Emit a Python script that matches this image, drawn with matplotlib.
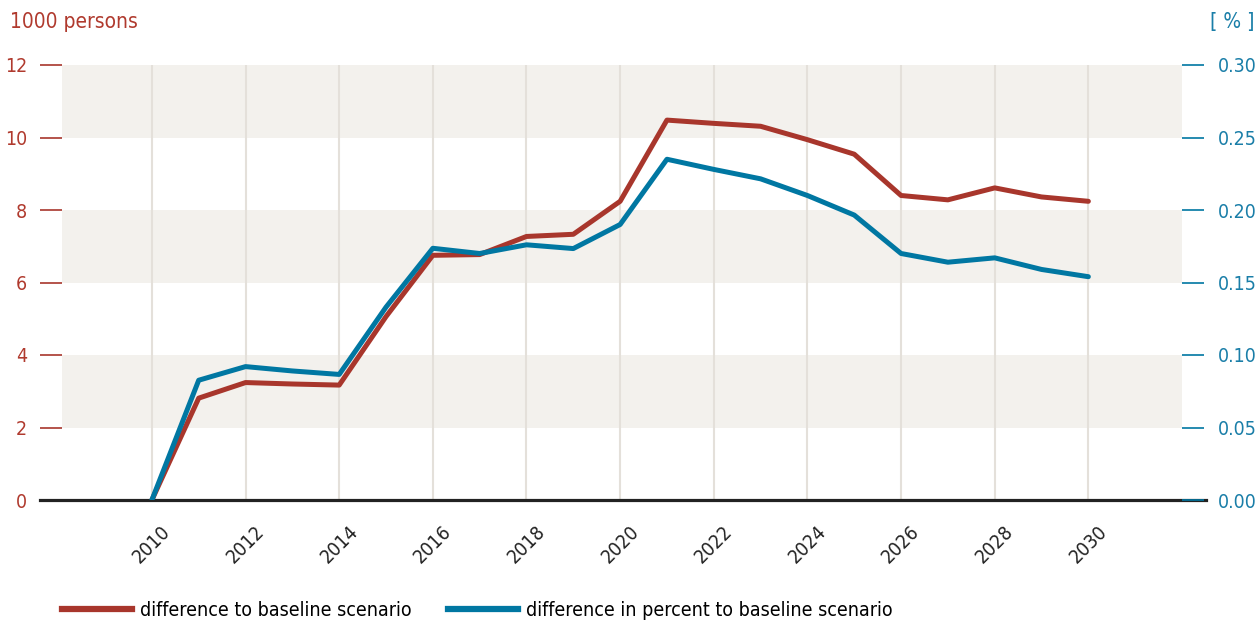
import matplotlib
matplotlib.use("Agg")
import matplotlib.pyplot as plt
from matplotlib import font_manager

years = list(range(2010, 2031))
# difference to baseline scenario, 1000 persons
diff_persons = [0.0, 2.81, 3.24, 3.20, 3.17, 5.06, 6.75, 6.77, 7.27, 7.33, 8.24,
                10.48, 10.39, 10.31, 9.94, 9.54, 8.40, 8.28, 8.61, 8.36, 8.24]
# difference in percent to baseline scenario
diff_percent = [0.0, 0.0826, 0.092, 0.089, 0.0866, 0.133, 0.1736, 0.170, 0.176, 0.1734, 0.190,
                0.235, 0.228, 0.2215, 0.210, 0.1965, 0.170, 0.164, 0.167, 0.159, 0.154]
xticks = list(range(2010, 2031, 2))
left_ticks = [0, 2, 4, 6, 8, 10, 12]
right_ticks = [0.0, 0.05, 0.10, 0.15, 0.20, 0.25, 0.30]
bands = [(2, 4), (6, 8), (10, 12)]
labels = ["difference to baseline scenario", "difference in percent to baseline scenario"]

red = "#a8362c"
blue = "#0077a2"
red_txt = "#b03a2e"
blue_txt = "#1a7ea8"

names = {f.name for f in font_manager.fontManager.ttflist}
if "Liberation Sans Narrow" in names:
    plt.rcParams["font.family"] = ["Liberation Sans Narrow", "DejaVu Sans"]
else:
    plt.rcParams["font.family"] = ["DejaVu Sans"]
    plt.rcParams["font.stretch"] = "condensed"

W, H = 1259, 621
fig = plt.figure(figsize=(W / 100, H / 100), dpi=100)
ax = fig.add_axes([62 / W, 1 - 500 / H, 1120 / W, 435 / H])
ax2 = ax.twinx()
ax2.set_position(ax.get_position())

for lo, hi in bands:
    ax.axhspan(lo, hi, color="#f3f1ed", lw=0, zorder=0)
for x in xticks:
    ax.axvline(x, color="#e4e0da", lw=1.5, zorder=1)

ax.plot(years, diff_persons, color=red, lw=3.6, zorder=3, solid_capstyle="round")
ax2.plot(years, diff_percent, color=blue, lw=3.6, zorder=4, solid_capstyle="round")
ax.set_zorder(2)
ax.patch.set_visible(True)
ax2.set_zorder(3)
ax2.patch.set_visible(False)

ax.axhline(0, xmin=-22 / 1120, xmax=1 + 24 / 1120, color="#222222", lw=2.3,
           clip_on=False, zorder=5)

ax.set_xlim(2008.08, 2032.0)
ax.set_ylim(0, 12)
ax2.set_ylim(0, 0.30)

for a in (ax, ax2):
    for s in a.spines.values():
        s.set_visible(False)

ax.set_yticks(left_ticks)
ax.set_yticklabels([str(v) for v in left_ticks])
ax.tick_params(axis="y", colors=red, labelcolor=red_txt, length=16, width=1.2,
               pad=9, labelsize=14)
ax2.set_yticks(right_ticks)
ax2.set_yticklabels([f"{v:.2f}" for v in right_ticks])
ax2.tick_params(axis="y", colors=blue, labelcolor=blue_txt, length=16, width=1.2,
                pad=10, labelsize=14)

ax.set_xticks(xticks)
ax.set_xticklabels([str(x) for x in xticks], rotation=45, ha="center", va="top",
                   fontsize=14)
ax.tick_params(axis="x", length=0, pad=16, labelcolor="#222222")

fig.text(10 / W, 1 - 22 / H, "1000 persons", color=red_txt, fontsize=15, va="center")
fig.text(1254 / W, 1 - 22 / H, "[ % ]", color=blue_txt, fontsize=15, va="center", ha="right")

h1, = ax.plot([], [], color=red, lw=4.5)
h2, = ax.plot([], [], color=blue, lw=4.5)
fig.legend([h1, h2], labels, loc="center left", bbox_to_anchor=(62 / W, 1 - 610 / H),
           ncol=2, frameon=False, fontsize=14, handlelength=3.6, handletextpad=0.4,
           columnspacing=1.9, borderpad=0, borderaxespad=0)

fig.savefig("out.png", dpi=100)
